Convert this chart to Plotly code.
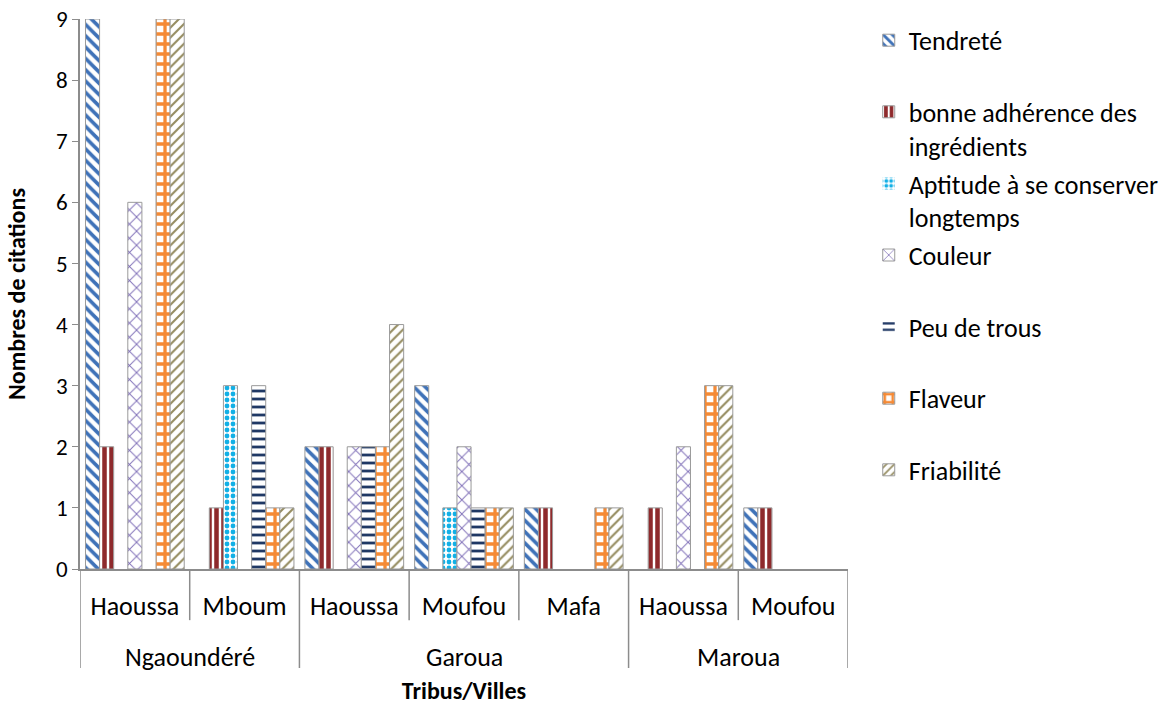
import plotly.graph_objects as go

# Categories: city (outer level) and tribe (inner level)
villes = ["Ngaoundéré", "Ngaoundéré", "Garoua", "Garoua", "Garoua", "Maroua", "Maroua"]
tribus = ["Haoussa", "Mboum", "Haoussa", "Moufou", "Mafa", "Haoussa", "Moufou"]

# Number of citations per criterion
tendrete = [9, 0, 2, 3, 1, 0, 1]
adherence = [2, 1, 2, 0, 1, 1, 1]
conservation = [0, 3, 0, 1, 0, 0, 0]
couleur = [6, 0, 2, 2, 0, 2, 0]
peu_de_trous = [0, 3, 2, 1, 0, 0, 0]
flaveur = [9, 1, 2, 1, 1, 3, 0]
friabilite = [9, 1, 4, 1, 1, 3, 0]

series = [
    ("Tendreté", tendrete, "#3f72b8", "\\", 8, 0.45),
    ("bonne adhérence des<br>ingrédients", adherence, "#8e2a2c", "|", 7, 0.65),
    ("Aptitude à se conserver<br>longtemps", conservation, "#12b0e6", ".", 6, 0.5),
    ("Couleur", couleur, "#7f6fb8", "x", 10, 0.18),
    ("Peu de trous", peu_de_trous, "#1f3864", "-", 8, 0.35),
    ("Flaveur", flaveur, "#f58a35", "+", 10, 0.55),
    ("Friabilité", friabilite, "#958c60", "/", 7, 0.3),
]

FONT = "Calibri, Carlito, Lato, sans-serif"
AXIS_GREY = "#8c8c8c"
positions = list(range(len(tribus)))

fig = go.Figure()
for i, (name, vals, col, shape, size, sol) in enumerate(series):
    label = name if "<br>" in name else name + "<br> "
    fig.add_trace(go.Bar(
        x=positions,
        y=vals,
        name=label,
        legendgroup=str(i),
        marker=dict(
            color=col,
            line=dict(color="#9a9a9a", width=[1 if v > 0 else 0 for v in vals]),
            pattern=dict(shape=shape, fgcolor=col, bgcolor="white",
                         fgopacity=1, size=size, solidity=sol),
        ),
    ))

# Two-level category axis: tribe dividers (short) and city dividers (long)
INNER_Y = -0.093
OUTER_Y = -0.18
shapes = []
for k in range(len(tribus) + 1):
    is_city_edge = (k == 0 or k == len(tribus) or villes[k] != villes[k - 1])
    shapes.append(dict(
        type="line", xref="x", yref="paper",
        x0=k - 0.5, x1=k - 0.5, y0=0, y1=OUTER_Y if is_city_edge else INNER_Y,
        line=dict(color=AXIS_GREY, width=1.5),
    ))

annotations = []
start = 0
for k in range(1, len(villes) + 1):
    if k == len(villes) or villes[k] != villes[start]:
        annotations.append(dict(
            x=(start + k - 1) / 2, y=-0.16, xref="x", yref="paper",
            yanchor="middle",
            text=villes[start], showarrow=False,
            font=dict(family=FONT, size=26, color="black"),
        ))
        start = k

fig.update_layout(
    width=1170,
    height=706,
    barmode="group",
    bargap=0.1,
    bargroupgap=0,
    plot_bgcolor="white",
    paper_bgcolor="white",
    font=dict(family=FONT, size=22, color="black"),
    margin=dict(l=80, r=322, t=19, b=137, autoexpand=False),
    shapes=shapes,
    annotations=annotations,
    legend=dict(
        x=1.027, y=1.004, xanchor="left", yanchor="top",
        valign="top",
        tracegroupgap=1,
        maxheight=690,
        font=dict(family=FONT, size=26, color="black"),
        bgcolor="rgba(0,0,0,0)",
    ),
    xaxis=dict(
        range=[-0.5, len(tribus) - 0.5],
        tickmode="array",
        tickvals=positions,
        ticktext=tribus,
        showgrid=False,
        zeroline=False,
        showline=True, linecolor=AXIS_GREY, linewidth=1.5,
        ticks="",
        ticklabelstandoff=13,
        tickfont=dict(family=FONT, size=26, color="black"),
        title=dict(text="<b>Tribus/Villes</b>", standoff=61,
                   font=dict(family=FONT, size=24, color="black")),
    ),
    yaxis=dict(
        range=[0, 9],
        dtick=1,
        showgrid=False,
        zeroline=False,
        showline=True, linecolor=AXIS_GREY, linewidth=1.5,
        ticks="outside", ticklen=6, tickcolor=AXIS_GREY,
        tickfont=dict(family=FONT, size=23, color="black"),
        title=dict(text="<b>Nombres de citations</b>", standoff=24,
                   font=dict(family=FONT, size=24, color="black")),
    ),
)

fig.write_html("out.html")
